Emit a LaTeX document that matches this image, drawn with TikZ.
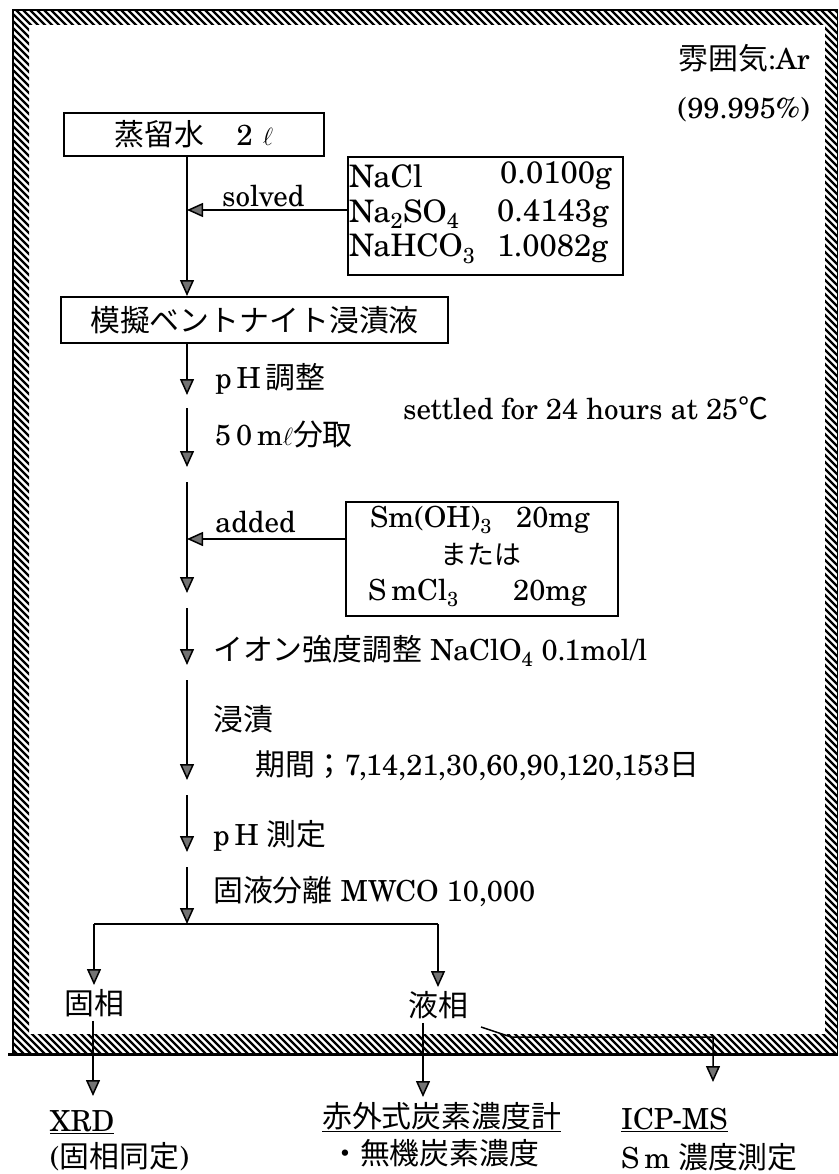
\documentclass[tikz,border=0pt]{standalone}
\usepackage{fontspec}
\setmainfont{TeX Gyre Schola}
\newfontfamily\cjk{Noto Sans CJK JP}[Scale=1.03]
\usetikzlibrary{arrows.meta}
\begin{document}
\begin{tikzpicture}[x=1pt,y=-1pt,
  font=\fontsize{29}{34}\selectfont,
  procbox/.style={draw, line width=2pt, inner sep=0pt, anchor=north west},
  lbl/.style={anchor=west, inner sep=0pt},
  rlbl/.style={anchor=east, inner sep=0pt},
  clbl/.style={anchor=center, inner sep=0pt},
  boxtxt/.style={anchor=west, inner sep=0pt, font=\fontsize{31}{36}\selectfont},
  smtxt/.style={anchor=west, inner sep=0pt, font=\fontsize{29}{34}\selectfont},
  flow/.style={line width=1.5pt, -{Triangle[length=16pt,width=14pt,fill=black!55,line width=1.5pt]}},
  branchline/.style={line width=2.4pt}]
\useasboundingbox (0,0) rectangle (838,1174);

% hatched frame
\begin{scope}[even odd rule]
  \clip (13,10) rectangle (838,1054) (29,25) rectangle (825,1034);
  \foreach \a in {-1100,-1093,...,845} \draw[line width=2.4pt] (\a,0) -- ++(1100,1100);
\end{scope}
\draw[line width=1.2pt] (13,1054) -- (13,10) -- (837.5,10) -- (837.5,1054);
\draw[line width=3pt] (8,1054) -- (838,1054);

% atmosphere
\node[rlbl] (atm) at (810,58) {{\cjk 雰囲気}:Ar};
\node[rlbl] (pur) at (810,110) {(99.995\%)};

% boxes
\node[procbox, minimum width=260pt, minimum height=43pt] (b1) at (63,112) {{\cjk 蒸留水}\hspace{1.1em}2\hspace{0.35em}$\ell$};
\node[procbox, minimum width=275pt, minimum height=118pt] (b3) at (347,156) {};
\node[boxtxt] (s1) at (349,176) {NaCl};
\node[boxtxt] (v1) at (500,176) {0.0100g};
\node[boxtxt] (s2) at (349,214) {Na\textsubscript{2}SO\textsubscript{4}};
\node[boxtxt] (v2) at (497,214) {0.4143g};
\node[boxtxt] (s3) at (349,249) {NaHCO\textsubscript{3}};
\node[boxtxt] (v3) at (497,249) {1.0082g};
\node[procbox, minimum width=387pt, minimum height=46pt] (b2) at (60,296) {\cjk 模擬ベントナイト浸漬液\hspace{0.3em}};
\node[procbox, minimum width=272pt, minimum height=114pt] (b4) at (345,501) {};
\node[smtxt] (m1) at (370,520) {Sm(OH)\textsubscript{3}};
\node[smtxt] (m2) at (516,520) {20mg};
\node[clbl, font=\fontsize{26}{30}\selectfont] (m3) at (481,554) {\cjk または};
\node[smtxt] (m4) at (368,593) {S\,mCl\textsubscript{3}};
\node[smtxt] (m5) at (513,593) {20mg};

% labels
\node[lbl] (solved) at (222,196) {solved};
\node[lbl] (phadj) at (215,379) {p\,H\,{\cjk 調整}};
\node[lbl] (take) at (215,434) {5\,0\,m$\ell${\cjk 分取}};
\node[lbl] (settled) at (403,408) {settled for 24 hours at 25{\cjk ℃}};
\node[lbl] (added) at (215,522) {added};
\node[lbl] (ionic) at (213,651) {{\cjk イオン強度調整} NaClO\textsubscript{4} 0.1mol/l};
\node[lbl] (soak) at (213,719) {\cjk 浸漬};
\node[lbl] (period) at (255,766) {{\cjk 期間；}7,14,21,30,60,90,120,153{\cjk 日}};
\node[lbl] (phmeas) at (213,836) {p\,H\ {\cjk 測定}};
\node[lbl] (sep) at (213,892) {{\cjk 固液分離} MWCO 10,000};

\node[clbl, inner sep=4pt] (solid) at (94,1003) {\cjk 固相};
\node[clbl, inner sep=4pt] (liquid) at (438,1005) {\cjk 液相};

\node[lbl] (xrd) at (50,1122) {\underline{XRD}};
\node[lbl] (xrd2) at (50,1157) {({\cjk 固相同定})};
\node[lbl] (ir) at (322,1117) {\underline{\cjk 赤外式炭素濃度計}};
\node[lbl] (ir2) at (330,1153) {\cjk ・無機炭素濃度};
\node[lbl] (icp) at (621,1120) {\underline{ICP-MS}};
\node[lbl] (icp2) at (621,1157) {S\,m\ {\cjk 濃度測定}};

% spine coordinates
\coordinate (spine) at (187,0);
\coordinate (p1) at (187,395);
\coordinate (p2s) at (187,408);
\coordinate (p2) at (187,467);
\coordinate (p3s) at (187,482);
\coordinate (p3) at (187,593);
\coordinate (p4s) at (187,608);
\coordinate (p4) at (187,665);
\coordinate (p5s) at (187,680);
\coordinate (p5) at (187,780);
\coordinate (p6s) at (187,795);
\coordinate (p6) at (187,852);
\coordinate (p7s) at (187,867);
\coordinate (br) at (187,924);
\coordinate (sol) at (347,210);
\coordinate (add) at (345,539);
\coordinate (bl) at (94,924);
\coordinate (brr) at (438,924);
\coordinate (x1) at (93,1096);
\coordinate (x2) at (423,1097);
\coordinate (d0) at (481,1027);
\coordinate (d1) at (511,1037);
\coordinate (x3) at (713,1082);

% connectors
\draw[flow] (spine |- b1.south) -- (spine |- b2.north);
\draw[flow] (sol) -- (sol -| spine);
\draw[flow] (spine |- b2.south) -- (p1);
\draw[flow] (p2s) -- (p2);
\draw[flow] (p3s) -- (p3);
\draw[flow] (add) -- (add -| spine);
\draw[flow] (p4s) -- (p4);
\draw[flow] (p5s) -- (p5);
\draw[flow] (p6s) -- (p6);
\draw[flow] (p7s) -- (br);
\draw[branchline] (bl) -- (brr);
\draw[flow, line width=2.2pt] (bl) -- (solid.north);
\draw[flow, line width=1.8pt] (brr) -- (liquid.north);
\draw[flow] (solid.south -| x1) -- (x1);
\draw[flow] (liquid.south -| x2) -- (x2);
\draw[flow] (d0) -- (d1) -- (d1 -| x3) -- (x3);
\end{tikzpicture}
\end{document}
